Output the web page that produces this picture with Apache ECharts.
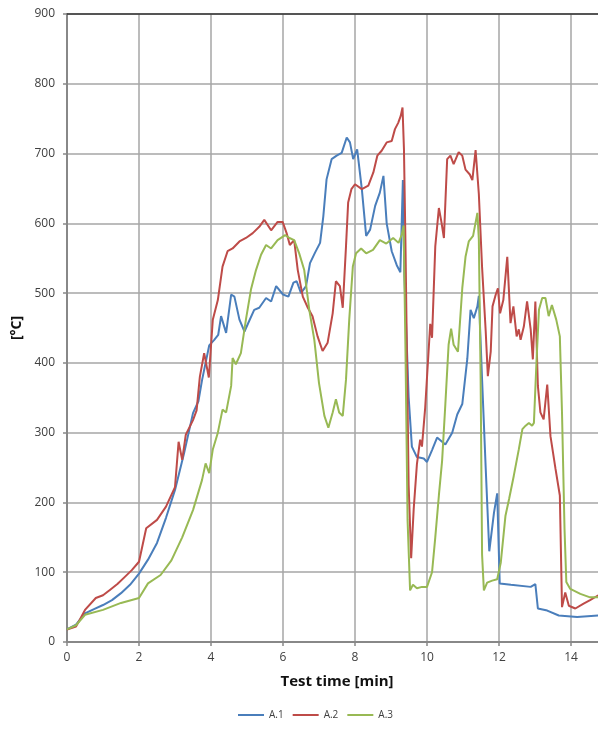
<!DOCTYPE html>
<html>
<head>
<meta charset="utf-8">
<script src="https://cdn.jsdelivr.net/npm/echarts@6/dist/echarts.min.js"></script>
<style>
  html, body { margin: 0; padding: 0; background: #fff; }
  #chart { width: 598px; height: 729px; }
</style>
</head>
<body>
<div id="chart"></div>
<script>
// time [min], temperature [°C]
var a1 = [[0,18],[0.25,25],[0.5,41],[0.75,47],[1,53],[1.25,60],[1.5,70],[1.75,82],[2,98],[2.25,118],[2.5,142],[2.75,178],[3,218],[3.25,270],[3.5,328],[3.65,345],[3.75,375],[3.85,400],[3.95,425],[4.09,433],[4.2,440],[4.28,467],[4.42,443],[4.56,498],[4.65,495],[4.79,462],[4.93,445],[5.06,460],[5.2,476],[5.34,479],[5.53,493],[5.67,488],[5.81,510],[6.0,498],[6.15,495],[6.29,515],[6.38,517],[6.5,500],[6.64,510],[6.75,543],[6.89,558],[7.03,572],[7.12,610],[7.21,663],[7.35,692],[7.49,697],[7.63,701],[7.77,723],[7.86,716],[7.95,692],[8.06,706],[8.19,649],[8.31,582],[8.42,591],[8.56,625],[8.69,644],[8.79,668],[8.88,600],[9.02,560],[9.16,540],[9.26,530],[9.33,662],[9.37,527],[9.49,351],[9.58,280],[9.72,265],[9.91,263],[10.0,258],[10.14,275],[10.28,293],[10.51,283],[10.7,300],[10.84,326],[10.98,341],[11.12,406],[11.21,476],[11.3,464],[11.4,481],[11.44,496],[11.53,376],[11.63,250],[11.73,130],[11.86,185],[11.95,213],[12.02,84],[12.33,82],[12.88,79],[13.01,83],[13.08,48],[13.34,45],[13.66,38],[14.17,36],[14.76,38]];
var a2 = [[0,18],[0.25,22],[0.5,46],[0.8,63],[1.0,67],[1.2,75],[1.4,83],[1.6,93],[1.8,103],[2,115],[2.2,163],[2.5,175],[2.75,194],[3,222],[3.1,287],[3.2,261],[3.3,297],[3.5,318],[3.6,332],[3.69,380],[3.81,414],[3.94,379],[4.05,462],[4.19,490],[4.32,538],[4.46,560],[4.6,564],[4.79,574],[4.97,579],[5.16,586],[5.34,595],[5.48,605],[5.67,590],[5.85,602],[5.99,602],[6.1,586],[6.19,569],[6.31,576],[6.41,533],[6.55,495],[6.69,479],[6.82,467],[6.96,438],[7.1,417],[7.24,429],[7.38,471],[7.47,517],[7.58,510],[7.66,479],[7.75,567],[7.81,630],[7.9,649],[8,656],[8.19,649],[8.37,654],[8.51,673],[8.62,697],[8.74,704],[8.88,716],[9.02,718],[9.11,735],[9.2,744],[9.27,754],[9.32,766],[9.36,706],[9.4,577],[9.49,225],[9.56,120],[9.63,190],[9.72,255],[9.81,290],[9.86,280],[9.95,336],[10.09,456],[10.14,436],[10.23,567],[10.33,622],[10.4,602],[10.47,579],[10.56,692],[10.65,697],[10.74,685],[10.88,702],[10.98,697],[11.07,677],[11.19,670],[11.26,662],[11.35,705],[11.44,642],[11.53,537],[11.63,446],[11.69,381],[11.77,416],[11.82,481],[11.91,498],[11.97,507],[12.03,471],[12.12,490],[12.23,552],[12.32,457],[12.4,481],[12.49,438],[12.55,448],[12.6,433],[12.69,452],[12.78,488],[12.88,448],[12.94,405],[13.01,488],[13.08,367],[13.15,329],[13.24,319],[13.34,369],[13.43,295],[13.57,248],[13.69,210],[13.75,50],[13.84,71],[13.94,52],[14.12,48],[14.35,55],[14.53,60],[14.76,67]];
var a3 = [[0,18],[0.25,24],[0.5,39],[1,46],[1.5,56],[2,63],[2.25,84],[2.6,96],[2.9,117],[3.2,150],[3.5,189],[3.75,232],[3.85,256],[3.95,242],[4.05,276],[4.19,300],[4.32,333],[4.42,329],[4.56,367],[4.6,407],[4.69,398],[4.83,414],[4.97,462],[5.11,505],[5.25,533],[5.39,555],[5.53,569],[5.67,564],[5.85,576],[6.06,583],[6.18,579],[6.31,576],[6.45,557],[6.59,533],[6.73,476],[6.87,433],[7.0,371],[7.15,324],[7.26,307],[7.38,329],[7.47,348],[7.56,329],[7.66,324],[7.75,376],[7.84,462],[7.94,538],[8.03,557],[8.17,564],[8.31,557],[8.5,562],[8.69,576],[8.87,571],[9.06,579],[9.21,572],[9.3,584],[9.35,597],[9.4,426],[9.46,175],[9.53,74],[9.61,82],[9.72,77],[9.86,79],[10,79],[10.14,100],[10.23,150],[10.33,210],[10.42,260],[10.51,341],[10.6,426],[10.67,449],[10.74,426],[10.86,416],[10.98,507],[11.07,552],[11.16,574],[11.28,582],[11.4,615],[11.44,577],[11.49,376],[11.53,125],[11.58,74],[11.67,85],[11.81,88],[11.95,90],[12.05,114],[12.18,181],[12.28,205],[12.41,238],[12.55,276],[12.65,305],[12.74,310],[12.83,314],[12.92,310],[12.97,314],[13.04,400],[13.11,476],[13.2,493],[13.29,493],[13.38,467],[13.47,483],[13.59,462],[13.69,438],[13.75,329],[13.82,162],[13.87,86],[13.98,76],[14.26,69],[14.53,64],[14.76,64]];

var seriesNames = ['A.1', 'A.2', 'A.3'];
var colors = ['#4a7ebb', '#be4b48', '#98b954'];

var chart = echarts.init(document.getElementById('chart'));

function line(name, data, color) {
  return {
    name: name,
    type: 'line',
    data: data,
    showSymbol: false,
    symbol: 'none',
    lineStyle: { width: 2, color: color },
    itemStyle: { color: color },
    animation: false
  };
}

var option = {
  backgroundColor: '#fff',
  animation: false,
  textStyle: { fontFamily: 'Open Sans, DejaVu Sans, sans-serif' },
  // plot runs past the right edge of the picture (cropped at ~14.75 min)
  grid: { left: 67, top: 14, width: 540, bottom: 87, containLabel: false, outerBoundsMode: 'none' },
  legend: {
    bottom: 4,
    left: 233,
    data: seriesNames,
    icon: 'rect',
    itemWidth: 26,
    itemHeight: 2,
    itemGap: 9,
    textStyle: { fontSize: 10, color: '#404040' }
  },
  xAxis: [{
    type: 'value',
    min: 0,
    max: 15,
    interval: 2,
    name: 'Test time [min]',
    nameLocation: 'middle',
    nameGap: 32,
    nameTextStyle: { fontSize: 15, fontWeight: 'bold', color: '#111' },
    axisLine: { lineStyle: { color: '#888', width: 2 } },
    axisTick: { show: true, length: 4, lineStyle: { color: '#888', width: 1.5 } },
    axisLabel: { fontSize: 12, color: '#404040', margin: 10 },
    splitLine: { show: true, lineStyle: { color: '#a6a6a6', width: 1.5 } }
  }, {
    type: 'value',
    position: 'top',
    min: 0,
    max: 15,
    axisLine: { show: true, lineStyle: { color: '#333', width: 1.5 } },
    axisTick: { show: false },
    axisLabel: { show: false },
    splitLine: { show: false }
  }],
  yAxis: {
    type: 'value',
    min: 0,
    max: 900,
    interval: 100,
    name: '[°C]',
    nameLocation: 'middle',
    nameGap: 34,
    nameRotate: 90,
    nameTextStyle: { fontSize: 14, fontWeight: 'bold', color: '#111' },
    axisLine: { show: true, lineStyle: { color: '#888', width: 2 } },
    axisTick: { show: true, length: 4, lineStyle: { color: '#888', width: 1.5 } },
    axisLabel: { fontSize: 12, color: '#404040', margin: 12 },
    splitLine: { show: true, lineStyle: { color: '#a6a6a6', width: 1.5 } }
  },
  series: [
    line(seriesNames[0], a1, colors[0]),
    line(seriesNames[1], a2, colors[1]),
    line(seriesNames[2], a3, colors[2])
  ]
};

chart.setOption(option);
</script>
</body>
</html>
